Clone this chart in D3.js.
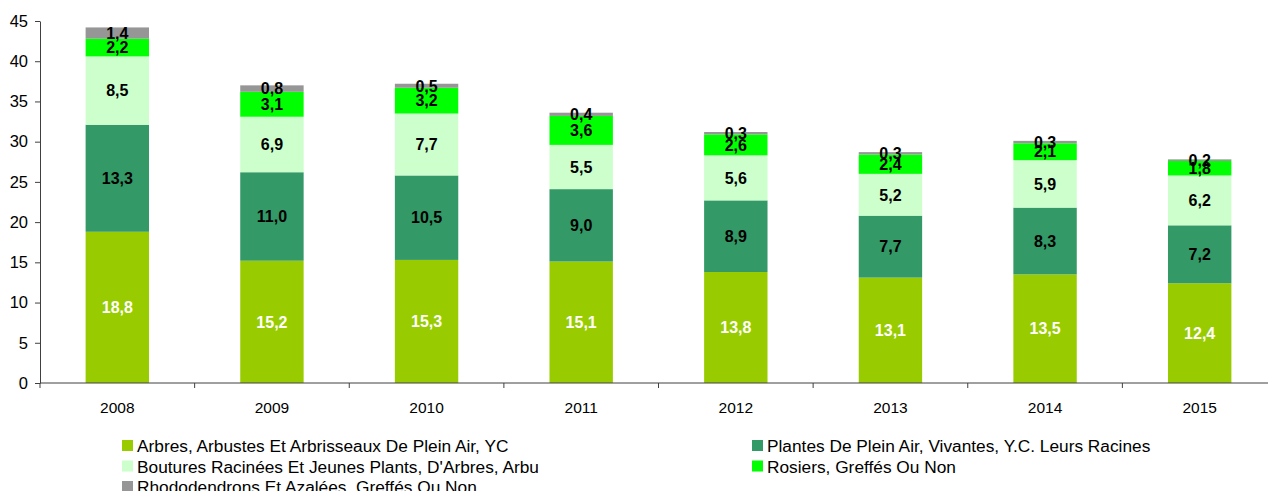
<!DOCTYPE html>
<html>
<head>
<meta charset="utf-8">
<script src="https://cdn.jsdelivr.net/npm/d3@7"></script>
<style>
  body { margin: 0; background: #fff; }
  svg { display: block; font-family: "Liberation Sans", Arial, sans-serif; }
</style>
</head>
<body>
<svg id="chart" width="1268" height="491"></svg>
<script>
const years = ["2008", "2009", "2010", "2011", "2012", "2013", "2014", "2015"];
const arbres = [18.8, 15.2, 15.3, 15.1, 13.8, 13.1, 13.5, 12.4];
const plantes = [13.3, 11.0, 10.5, 9.0, 8.9, 7.7, 8.3, 7.2];
const boutures = [8.5, 6.9, 7.7, 5.5, 5.6, 5.2, 5.9, 6.2];
const rosiers = [2.2, 3.1, 3.2, 3.6, 2.6, 2.4, 2.1, 1.8];
const rhodo = [1.4, 0.8, 0.5, 0.4, 0.3, 0.3, 0.3, 0.2];
const yTicks = [0, 5, 10, 15, 20, 25, 30, 35, 40, 45];

const series = [
  { name: "Arbres, Arbustes Et Arbrisseaux De Plein Air, YC", values: arbres, color: "#99cc00", label: "#fff" },
  { name: "Plantes De Plein Air, Vivantes, Y.C. Leurs Racines", values: plantes, color: "#339966", label: "#000" },
  { name: "Boutures Racinées Et Jeunes Plants, D'Arbres, Arbu", values: boutures, color: "#ccffcc", label: "#000" },
  { name: "Rosiers, Greffés Ou Non", values: rosiers, color: "#00ff00", label: "#000" },
  { name: "Rhododendrons Et Azalées, Greffés Ou Non", values: rhodo, color: "#969696", label: "#000" }
];

const svg = d3.select("#chart");
const margin = { l: 40, r: -9, t: 21, b: 108 };
const width = 1268, height = 491;

const x = d3.scaleBand()
  .domain(years)
  .range([margin.l, width - margin.r])
  .paddingInner(0.59)
  .paddingOuter(0.295);

const y = d3.scaleLinear()
  .domain([0, 45])
  .range([height - margin.b, margin.t]);

// stack
const table = years.map((yr, i) => {
  const row = { year: yr };
  series.forEach((s, k) => { row["s" + k] = s.values[i]; });
  return row;
});
const stack = d3.stack().keys(series.map((s, k) => "s" + k));
const layers = stack(table);

const g = svg.append("g");
layers.forEach((layer, k) => {
  const s = series[k];
  g.append("g")
    .selectAll("rect")
    .data(layer)
    .join("rect")
    .attr("x", d => x(d.data.year))
    .attr("width", x.bandwidth())
    .attr("y", d => y(d[1]))
    .attr("height", d => y(d[0]) - y(d[1]))
    .attr("fill", s.color);
});

// labels
layers.forEach((layer, k) => {
  const s = series[k];
  g.append("g")
    .selectAll("text")
    .data(layer)
    .join("text")
    .attr("x", d => x(d.data.year) + x.bandwidth() / 2)
    .attr("y", d => y((d[0] + d[1]) / 2))
    .attr("dy", "0.36em")
    .attr("text-anchor", "middle")
    .attr("font-size", 16)
    .attr("font-weight", "bold")
    .attr("fill", s.label)
    .text(d => d3.format(".1f")(d[1] - d[0]).replace(".", ","));
});

// y axis
const yAxis = svg.append("g")
  .attr("transform", `translate(${margin.l},0)`)
  .call(d3.axisLeft(y).tickValues(yTicks).tickSize(5).tickPadding(7).tickSizeOuter(0));
yAxis.selectAll("text").attr("font-size", 16.5).attr("fill", "#000").attr("font-family", "Liberation Sans, Arial, sans-serif");
yAxis.selectAll("line, path").attr("stroke", "#404040");

// x axis with ticks at band boundaries
const xAxisG = svg.append("g")
  .attr("transform", `translate(0,${y(0)})`);
xAxisG.append("line")
  .attr("x1", margin.l).attr("x2", width)
  .attr("stroke", "#404040");
const step = x.step();
const bounds = years.map(yr => x(yr) - (step - x.bandwidth()) / 2);
xAxisG.selectAll(".tk")
  .data(bounds.concat([bounds[bounds.length - 1] + step]))
  .join("line")
  .attr("x1", d => d).attr("x2", d => d)
  .attr("y1", 0).attr("y2", 5)
  .attr("stroke", "#404040");
xAxisG.selectAll(".lbl")
  .data(years)
  .join("text")
  .attr("x", d => x(d) + x.bandwidth() / 2)
  .attr("y", 30)
  .attr("text-anchor", "middle")
  .attr("font-size", 15.5)
  .text(d => d);

// legend
const legendPos = [
  { x: 122, y: 452 }, { x: 752, y: 452 },
  { x: 122, y: 472.5 }, { x: 752, y: 472.5 },
  { x: 122, y: 493 }
];
const legend = svg.append("g")
  .selectAll("g")
  .data(series)
  .join("g")
  .attr("transform", (d, i) => `translate(${legendPos[i].x},${legendPos[i].y})`);
legend.append("rect")
  .attr("x", 0).attr("y", -12)
  .attr("width", 11).attr("height", 11)
  .attr("fill", d => d.color);
legend.append("text")
  .attr("x", 15)
  .attr("y", 0)
  .attr("font-size", 17.3)
  .text(d => d.name);
</script>
</body>
</html>
